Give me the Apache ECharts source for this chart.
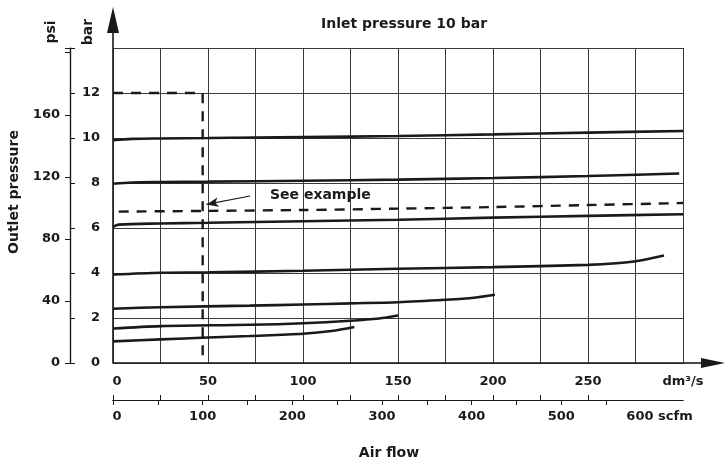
<!DOCTYPE html>
<html><head><meta charset="utf-8">
<script src="https://cdn.jsdelivr.net/npm/echarts@6/dist/echarts.min.js"></script>
<style>html,body{margin:0;padding:0;background:#fff}#c{width:726px;height:465px}</style>
</head><body><div id="c"></div>
<script>
// ---- data (x: air flow dm3/s, y: outlet pressure bar) ----
const curve10 = [[0,9.9],[10,9.96],[25,9.98],[50,10.0],[100,10.04],[150,10.09],[200,10.16],[250,10.24],[300,10.31]];
const curve8  = [[0,7.97],[10,8.02],[25,8.04],[50,8.06],[100,8.1],[150,8.15],[200,8.22],[250,8.31],[298,8.42]];
const curve6  = [[0,6.05],[3,6.15],[25,6.2],[50,6.23],[100,6.3],[150,6.37],[200,6.46],[250,6.54],[300,6.61]];
const curve4  = [[0,3.93],[25,4.01],[50,4.03],[100,4.1],[150,4.19],[200,4.26],[250,4.36],[265,4.43],[275,4.52],[290,4.78]];
const curve25 = [[0,2.41],[25,2.48],[72,2.55],[100,2.6],[125,2.65],[150,2.7],[175,2.81],[190,2.9],[201,3.03]];
const curve16 = [[0,1.53],[25,1.64],[72,1.7],[100,1.77],[125,1.88],[140,1.98],[150,2.11]];
const curve10b= [[0,0.96],[25,1.05],[50,1.13],[72,1.2],[100,1.3],[115,1.42],[127,1.6]];
const examplePath = [[0,12],[47.2,12],[47.2,0]];
const exampleLine = [[3,6.73],[50,6.76],[100,6.8],[150,6.86],[200,6.93],[250,7.02],[300,7.11]];
const arrowFrom = [72.1,7.42];
const arrowTo = [49.2,7.05];
const noteAt = [82.6,7.47];
const noteText = 'See example';
const dmLabels = [0,50,100,150,200,250,300];
const dmTicks = [0,25,50,75,100,125,150,175,200,225,250];
const scfmLabels = [0,100,200,300,400,500,600];
const scfmTicks = [0,50,100,150,200,250,300,350,400,450,500,550];
const barMax = 14, psiPerBar = 14.5038, scfmPerDm = 1/0.471947;
const titleText = 'Inlet pressure 10 bar';

const F = '"DejaVu Sans", sans-serif';
const INK = '#1a1a1a';
const chart = echarts.init(document.getElementById('c'), null, {renderer:'canvas'});
const curveStyle = {color: INK, width: 2.6};
function curve(d){return {type:'line', data:d, smooth:0.3, showSymbol:false, lineStyle:curveStyle, silent:true, z:3};}
const lbl = {color:INK, fontWeight:'bold', fontSize:13, fontFamily:F};

chart.setOption({
  animation:false,
  textStyle:{fontFamily:F},
  grid:{left:113, right:43, top:48, bottom:102},
  xAxis:[
    {type:'value', min:0, max:300, interval:25, position:'bottom',
     axisLine:{show:true, lineStyle:{color:INK, width:1.6}},
     axisTick:{show:false},
     axisLabel:Object.assign({customValues:dmLabels, margin:12,
       formatter:v=> v===300 ? 'dm³/s' : (v===0 ? '{z|0}' : String(v)),
       rich:{z:Object.assign({padding:[0,0,0,8]}, lbl)}}, lbl),
     splitLine:{show:true, lineStyle:{color:'#3a3a3a', width:1}}},
    {type:'value', min:0, max:300, position:'bottom', offset:37,
     axisLine:{show:true, onZero:false, lineStyle:{color:INK, width:1.2}},
     axisTick:{show:true, inside:true, length:5, customValues:dmTicks, lineStyle:{color:INK}},
     axisLabel:{show:false}, splitLine:{show:false}},
    {type:'value', min:0, max:300*scfmPerDm, position:'bottom', offset:37,
     axisLine:{show:true, onZero:false, lineStyle:{color:INK, width:1.2}},
     axisTick:{show:true, length:5, customValues:scfmTicks, lineStyle:{color:INK}},
     axisLabel:Object.assign({customValues:scfmLabels, margin:10,
       formatter:v=> v===600 ? '{p|600 scfm}' : (v===0 ? '{z|0}' : String(v)),
       rich:{p:Object.assign({padding:[0,0,0,17]}, lbl), z:Object.assign({padding:[0,0,0,8]}, lbl)}}, lbl),
     splitLine:{show:false},
     name:'Air flow', nameLocation:'middle', nameGap:46,
     nameTextStyle:{color:INK, fontWeight:'bold', fontSize:14, fontFamily:F, padding:[0,18,0,0]}}
  ],
  yAxis:[
    {type:'value', min:0, max:barMax, interval:2, position:'left', offset:43,
     axisLine:{show:true, onZero:false, lineStyle:{color:INK, width:1.2}},
     axisTick:{show:true, inside:true, length:5, lineStyle:{color:INK}},
     axisLabel:Object.assign({inside:true, align:'right', margin:30,
       formatter:v=> v>=barMax ? '' : String(v)}, lbl),
     splitLine:{show:true, lineStyle:{color:'#3a3a3a', width:1}}},
    {type:'value', min:0, max:barMax*psiPerBar, interval:40, position:'left', offset:43,
     axisLine:{show:true, onZero:false, lineStyle:{color:INK, width:1.2}},
     axisTick:{show:true, length:5, lineStyle:{color:INK}},
     axisLabel:Object.assign({margin:10, formatter:v=> v>190 ? '' : String(v)}, lbl),
     splitLine:{show:false}}
  ],
  series:[
    curve(curve10), curve(curve8), curve(curve6), curve(curve4), curve(curve25), curve(curve16), curve(curve10b),
    {type:'line', data:examplePath, showSymbol:false, silent:true, z:3,
     lineStyle:{color:INK, width:2.4, type:[10,8]}},
    {type:'line', data:exampleLine, smooth:0.3, showSymbol:false, silent:true, z:3,
     lineStyle:{color:INK, width:2.4, type:[10,8]},
     markLine:{silent:true, symbol:['none','arrow'], symbolSize:[7,12], animation:false,
       lineStyle:{color:INK, width:1.1, type:'solid'}, label:{show:false},
       data:[[{coord:arrowFrom},{coord:arrowTo}]]},
     markPoint:{silent:true, symbol:'circle', symbolSize:0,
       label:{show:true, position:'right', distance:0, color:INK, fontWeight:'bold', fontSize:14, fontFamily:F,
         formatter:noteText},
       data:[{coord:noteAt}]}}
  ]
});

const o = chart.convertToPixel({xAxisIndex:0, yAxisIndex:0}, [0,0]);
const tr = chart.convertToPixel({xAxisIndex:0, yAxisIndex:0}, [300,barMax]);
const txt = (t, x, y, size, rot) => ({type:'text', x:x, y:y, rotation:rot||0, z:10,
  style:{text:t, fill:INK, font:'bold '+size+'px '+F, align:'center', verticalAlign:'middle'}});
chart.setOption({graphic:[
  {type:'line', shape:{x1:o[0], y1:o[1], x2:o[0], y2:tr[1]-17}, style:{stroke:INK, lineWidth:1.6}, z:5},
  {type:'polygon', shape:{points:[[o[0], tr[1]-41],[o[0]-6, tr[1]-15],[o[0]+6, tr[1]-15]]}, style:{fill:INK}, z:5},
  {type:'line', shape:{x1:tr[0], y1:o[1], x2:tr[0]+20, y2:o[1]}, style:{stroke:INK, lineWidth:1.6}, z:5},
  {type:'polygon', shape:{points:[[tr[0]+42, o[1]],[tr[0]+18, o[1]-5],[tr[0]+18, o[1]+5]]}, style:{fill:INK}, z:5},
  txt(titleText, 404, 24, 14),
  txt('psi', 51, 32, 14, Math.PI/2),
  txt('bar', 88.5, 32, 14, Math.PI/2),
  txt('Outlet pressure', 14.5, 192, 14, Math.PI/2)
]});
</script></body></html>
